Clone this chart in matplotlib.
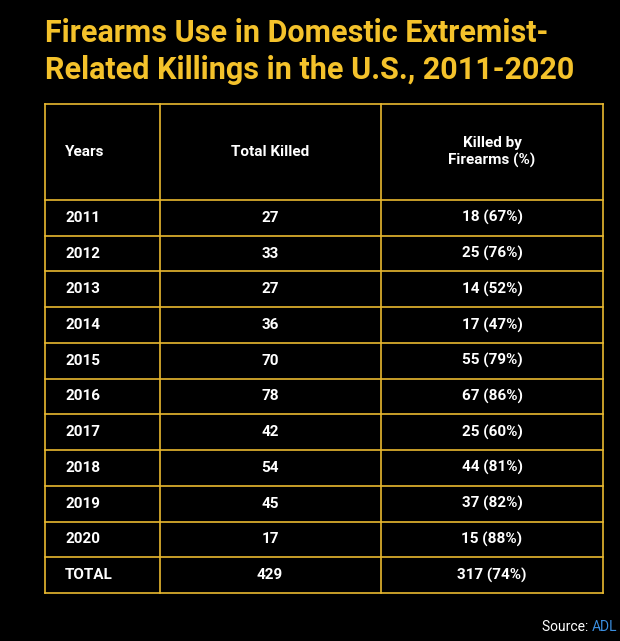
import matplotlib
matplotlib.use("Agg")
import matplotlib.pyplot as plt
from matplotlib.lines import Line2D

years = ["2011","2012","2013","2014","2015","2016","2017","2018","2019","2020","TOTAL"]
total_killed = [27,33,27,36,70,78,42,54,45,17,429]
firearm_killed = [18,25,14,17,55,67,25,44,37,15,317]
firearm_pct = [67,76,52,47,79,86,60,81,82,88,74]

W, H = 620, 641
fig = plt.figure(figsize=(W/100, H/100), dpi=100, facecolor="black")
gold = "#e8b830"
title_c = "#f4c22b"
def X(x): return x / W
def Y(y): return 1 - y / H
def line(x0, y0, x1, y1):
    fig.add_artist(Line2D([X(x0), X(x1)], [Y(y0), Y(y1)], color=gold, lw=1.2))

fig.text(X(45), Y(33), "Firearms Use in Domestic Extremist-", color=title_c,
         fontsize=22, fontweight="bold", family="Roboto", va="center")
fig.text(X(45), Y(70), "Related Killings in the U.S., 2011-2020", color=title_c,
         fontsize=22, fontweight="bold", family="Roboto", va="center")

left, right, top, hdr_bot, bottom = 45, 603, 104, 200, 593
c1, c2 = 160, 381
n = len(years)
rh = (bottom - hdr_bot) / n
line(left, top, right, top)
line(left, hdr_bot, right, hdr_bot)
for i in range(1, n + 1):
    line(left, hdr_bot + i * rh, right, hdr_bot + i * rh)
for x in (left, c1, c2, right):
    line(x, top, x, bottom)

kw = dict(color="white", fontsize=11, fontweight="bold", family="Roboto", va="center")
hy = (top + hdr_bot) / 2
fig.text(X(65), Y(hy), "Years", ha="left", **kw)
fig.text(X(270), Y(hy), "Total Killed", ha="center", **kw)
fig.text(X(492), Y(hy), "Killed by\nFirearms (%)", ha="center", linespacing=1.3, **kw)
for i in range(n):
    y = hdr_bot + (i + 0.5) * rh
    fig.text(X(65), Y(y), years[i], ha="left", **kw)
    fig.text(X(270), Y(y), str(total_killed[i]), ha="center", **kw)
    fig.text(X(492), Y(y), f"{firearm_killed[i]} ({firearm_pct[i]}%)", ha="center", **kw)

fig.text(X(592), Y(627), "Source: ", color="white", fontsize=10, family="Roboto", ha="right", va="center")
fig.text(X(592), Y(627), "ADL", color="#3b8fe0", fontsize=10, family="Roboto", ha="left", va="center")

fig.savefig("out.png", dpi=100, facecolor="black")
